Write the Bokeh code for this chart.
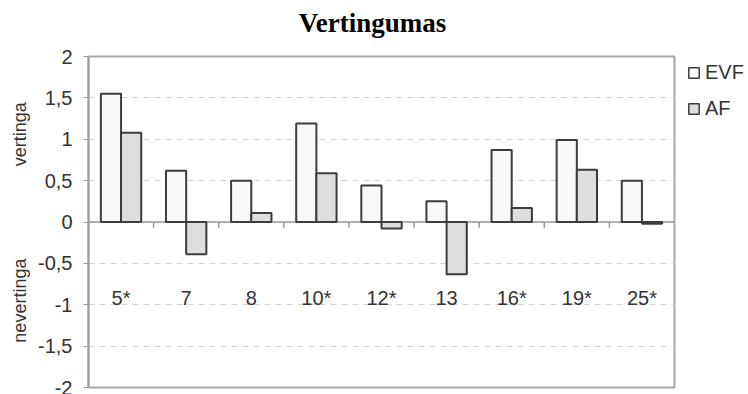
from bokeh.plotting import figure
from bokeh.layouts import row, column
from bokeh.models import (FactorRange, Range1d, ColumnDataSource, FixedTicker,
                          CustomJSTickFormatter, Legend, LegendItem)
from bokeh.transform import dodge
from bokeh.core.properties import value
from bokeh.embed import file_html
from bokeh.resources import INLINE
import math

categories = ["5*", "7", "8", "10*", "12*", "13", "16*", "19*", "25*"]
evf = [1.55, 0.62, 0.50, 1.19, 0.44, 0.25, 0.87, 0.99, 0.50]
af = [1.08, -0.39, 0.11, 0.59, -0.08, -0.63, 0.17, 0.63, -0.02]
y_ticks = [-2, -1.5, -1, -0.5, 0, 0.5, 1, 1.5, 2]
series_names = ["EVF", "AF"]
title_text = "Vertingumas"
side_labels = ["vertinga", "nevertinga"]
side_label_y = [1.06, -0.95]

FONT = "Liberation Sans"
TXT = "#333333"
EVF_FILL = "#f9f9f9"
AF_FILL = "#dedede"
EDGE = "#3c3c3c"

TH = 44            # title strip height
H = 394 - TH
TOP, BOTTOM = 12, 7
yr = Range1d(-2, 2)


def bare(fig):
    fig.axis.visible = False
    fig.grid.visible = False
    fig.outline_line_color = None
    return fig


src = ColumnDataSource(dict(cat=categories, evf=evf, af=af,
                            lab_y=[-0.92] * len(categories)))
bnd = ColumnDataSource(dict(cat=categories[:-1]))

# ---------- title strip ----------
pt = bare(figure(width=748, height=TH, x_range=Range1d(0, 748), y_range=Range1d(TH, 0),
                 output_backend="svg", toolbar_location=None, min_border=0))
pt.text(x=[372], y=[22], text=[title_text], text_align="center",
        text_baseline="alphabetic", text_font=value("Liberation Serif"),
        text_font_style="bold", text_font_size="27px", text_color="#000000")

# ---------- left strip: side labels ----------
pl = bare(figure(width=30, height=H, x_range=Range1d(0, 30), y_range=yr,
                 output_backend="svg", toolbar_location=None,
                 min_border_left=0, min_border_right=0, min_border_top=TOP,
                 min_border_bottom=BOTTOM))
lsrc = ColumnDataSource(dict(t=side_labels, y=side_label_y, x=[19] * len(side_labels)))
pl.text(x="x", y="y", text="t", source=lsrc, angle=math.pi / 2,
        text_align="center", text_baseline="middle", text_font=value(FONT),
        text_font_size="18px", text_color=TXT)

# ---------- main chart ----------
p = figure(width=646, height=H, x_range=FactorRange(*categories), y_range=yr,
           output_backend="svg", toolbar_location=None,
           min_border_left=58, min_border_right=2, min_border_top=TOP,
           min_border_bottom=BOTTOM)

p.outline_line_color = "#a8a8a8"
p.outline_line_width = 2
p.xaxis.visible = False
p.xgrid.visible = False

ax = p.yaxis[0]
ax.ticker = FixedTicker(ticks=y_ticks)
ax.formatter = CustomJSTickFormatter(code="return tick.toString().replace('.', ',');")
ax.axis_line_color = "#a0a0a0"
ax.axis_line_width = 2
ax.major_tick_line_color = "#a0a0a0"
ax.major_tick_out = 5
ax.major_tick_in = 0
ax.minor_tick_line_color = None
ax.major_label_text_font = FONT
ax.major_label_text_font_size = "20px"
ax.major_label_text_color = TXT
ax.major_label_standoff = 11

p.ygrid.ticker = FixedTicker(ticks=y_ticks)
p.ygrid.grid_line_color = "#d4d4d4"
p.ygrid.grid_line_dash = "6 5"
p.ygrid.grid_line_width = 1

p.segment(x0=dodge("cat", -0.5, range=p.x_range), x1=dodge("cat", 0.5, range=p.x_range),
          y0=0, y1=0, source=src, line_color="#999999", line_width=1.5)
p.segment(x0=dodge("cat", 0.5, range=p.x_range), x1=dodge("cat", 0.5, range=p.x_range),
          y0=0, y1=-0.07, source=bnd, line_color="#999999", line_width=1.5)

p.vbar(x=dodge("cat", -0.155, range=p.x_range), top="evf", bottom=0, width=0.31,
       source=src, fill_color=EVF_FILL, line_color=EDGE, line_width=2)
p.vbar(x=dodge("cat", 0.155, range=p.x_range), top="af", bottom=0, width=0.31,
       source=src, fill_color=AF_FILL, line_color=EDGE, line_width=2)

p.text(x="cat", y="lab_y", text="cat", source=src, text_align="center",
       text_baseline="middle", text_font=value(FONT), text_font_size="20px",
       text_color=TXT)

# ---------- right strip: legend ----------
pr = bare(figure(width=72, height=H, x_range=Range1d(0, 1), y_range=Range1d(0, 1),
                 output_backend="svg", toolbar_location=None,
                 min_border_left=0, min_border_right=0, min_border_top=TOP,
                 min_border_bottom=BOTTOM))
keysrc = ColumnDataSource(dict(x=[0.5], top=[0.5]))
g1 = pr.vbar(x="x", top="top", width=0.1, source=keysrc, fill_color=EVF_FILL,
             line_color=EDGE, line_width=1.5, visible=False)
g2 = pr.vbar(x="x", top="top", width=0.1, source=keysrc, fill_color=AF_FILL,
             line_color=EDGE, line_width=1.5, visible=False)
legend = Legend(items=[LegendItem(label=series_names[0], renderers=[g1]),
                       LegendItem(label=series_names[1], renderers=[g2])],
                location=(11, 267), border_line_color=None, background_fill_alpha=0,
                inactive_fill_alpha=0, padding=0, margin=0, glyph_width=13,
                glyph_height=13, label_height=20, spacing=13, label_standoff=5,
                label_text_font=FONT, label_text_font_size="20px",
                label_text_color=TXT)
pr.add_layout(legend)

layout = column(pt, row(pl, p, pr, spacing=0), spacing=0)
open("out.html", "w").write(file_html(layout, INLINE))
